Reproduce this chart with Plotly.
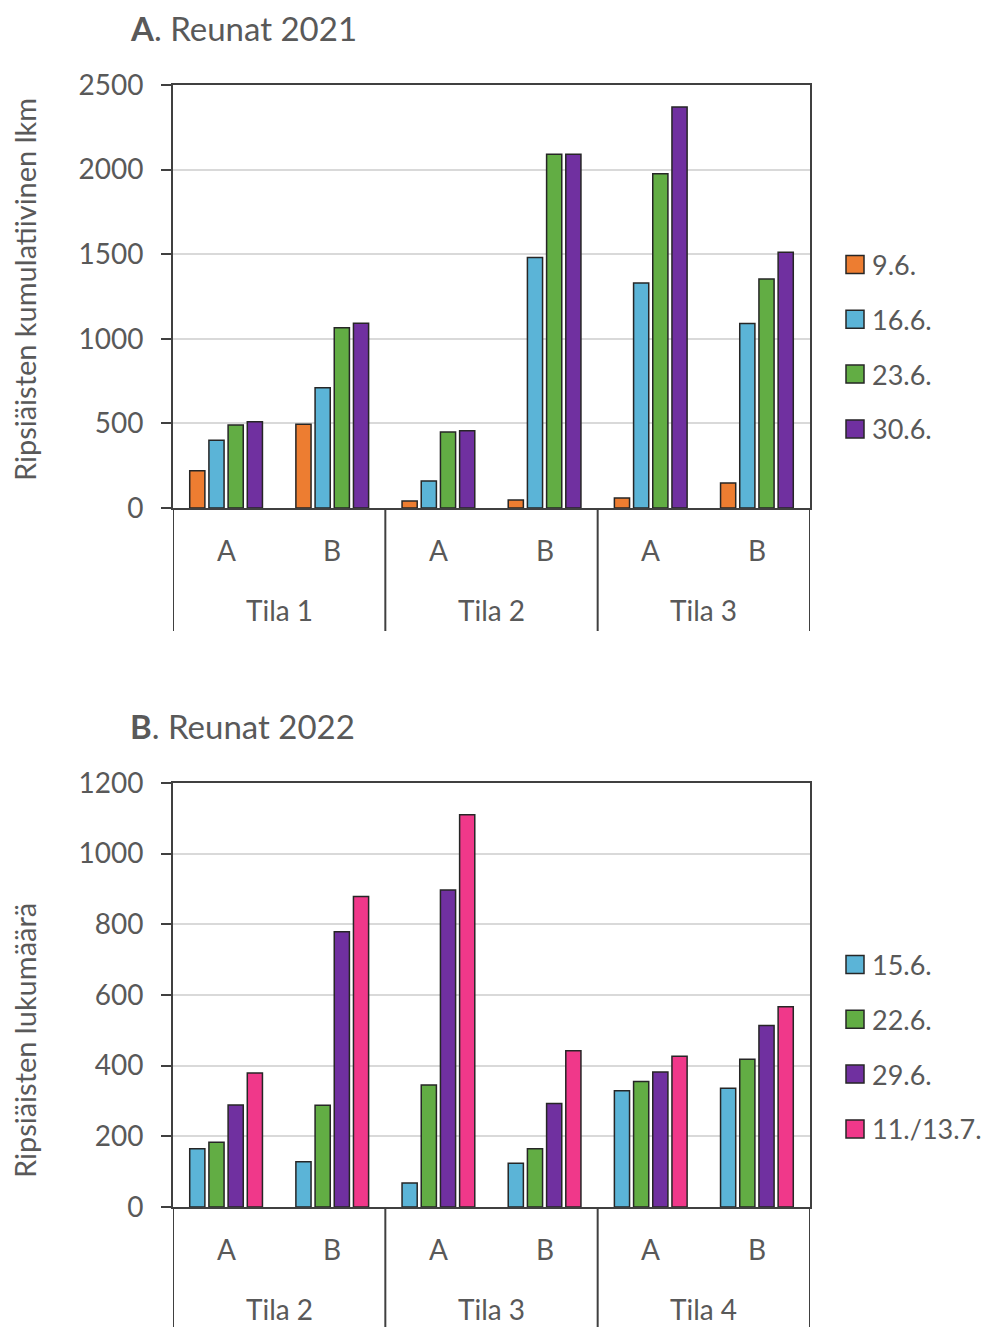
import plotly.graph_objects as go

# the page body adds an 8px margin, so the figure is 8px smaller and all
# pixel positions below are given in page coordinates
OFF = 8
W, H = 990 - OFF, 1327 - OFF
FONT = "Lato"
TEXT = "#595959"
AXIS = "#404040"
GRID = "#D9D9D9"
OUTLINE = "#262626"

# --- data -----------------------------------------------------------------
EDGES = ["A", "B"]

FARMS_2021 = ["Tila 1", "Tila 2", "Tila 3"]
DATES_2021 = ["9.6.", "16.6.", "23.6.", "30.6."]
V_0906 = [220, 495, 41, 47, 59, 148]
V_1606 = [400, 710, 160, 1480, 1330, 1090]
V_2306 = [490, 1065, 449, 2090, 1976, 1353]
V_3006 = [510, 1092, 457, 2090, 2370, 1511]
COLORS_2021 = ["#ED7D31", "#5BB4D7", "#62AD44", "#7030A0"]

FARMS_2022 = ["Tila 2", "Tila 3", "Tila 4"]
DATES_2022 = ["15.6.", "22.6.", "29.6.", "11./13.7."]
V_1506 = [165, 128, 68, 124, 329, 336]
V_2206 = [183, 288, 345, 165, 355, 418]
V_2906 = [289, 779, 897, 293, 382, 514]
V_1107 = [379, 879, 1110, 442, 427, 567]
COLORS_2022 = ["#5BB4D7", "#62AD44", "#7030A0", "#F0388A"]

SERIES_2021 = [V_0906, V_1606, V_2306, V_3006]
SERIES_2022 = [V_1506, V_2206, V_2906, V_1107]


def px_x(p):
    return (p - OFF) / W


def px_y(p):
    return 1 - (p - OFF) / H


def label(x, y, text, size=28, xref="paper", **kw):
    d = dict(x=x, y=y, xref=xref, yref="paper", text=text, showarrow=False,
             xanchor="center", yanchor="middle",
             font=dict(size=size, color=TEXT, family=FONT))
    d.update(kw)
    return d


fig = go.Figure()

panels = [
    dict(xa="x", ya="y", farms=FARMS_2021, dates=DATES_2021, series=SERIES_2021,
         colors=COLORS_2021, top=85, bottom=508, ymax=2500, dtick=500,
         title="<b>A</b>. Reunat 2021", title_y=28,
         ytitle="Ripsiäisten kumulatiivinen lkm", ytitle_y=290,
         leg_y0=264.5, cat_bottom=631),
    dict(xa="x2", ya="y2", farms=FARMS_2022, dates=DATES_2022, series=SERIES_2022,
         colors=COLORS_2022, top=783, bottom=1207, ymax=1200, dtick=200,
         title="<b>B</b>. Reunat 2022", title_y=726,
         ytitle="Ripsiäisten lukumäärä", ytitle_y=1041,
         leg_y0=964.5, cat_bottom=1327),
]

annotations = []
shapes = []

for k, p in enumerate(panels):
    positions = list(range(len(p["farms"]) * len(EDGES)))
    for name, vals, col in zip(p["dates"], p["series"], p["colors"]):
        fig.add_trace(go.Bar(
            x=positions, y=vals, name=name,
            xaxis=p["xa"], yaxis=p["ya"],
            marker=dict(color=col, line=dict(color=OUTLINE, width=1.5)),
            showlegend=False,
        ))

    suffix = "" if k == 0 else "2"
    fig.layout["xaxis" + suffix] = dict(
        domain=[px_x(173), px_x(810)], range=[-0.5, len(positions) - 0.5],
        anchor=p["ya"], showticklabels=False, ticks="", showgrid=False,
        zeroline=False, showline=True, linecolor=AXIS, linewidth=2, mirror=True,
        automargin=False,
    )
    fig.layout["yaxis" + suffix] = dict(
        domain=[px_y(p["bottom"]), px_y(p["top"])], range=[0, p["ymax"]],
        dtick=p["dtick"], anchor=p["xa"], showgrid=True, gridcolor=GRID,
        gridwidth=1.5, zeroline=False, showline=True, linecolor=AXIS,
        linewidth=2, mirror=True, ticks="outside", ticklen=10, tickwidth=1.5,
        tickcolor=AXIS, ticklabelstandoff=12, automargin=False,
        tickfont=dict(size=28, color=TEXT, family=FONT),
    )

    # multi-level category labels
    for i, farm in enumerate(p["farms"]):
        for j, edge in enumerate(EDGES):
            annotations.append(label(i * len(EDGES) + j, px_y(p["bottom"] + 42),
                                     edge, xref=p["xa"]))
        annotations.append(label(i * len(EDGES) + (len(EDGES) - 1) / 2,
                                 px_y(p["bottom"] + 102), farm, xref=p["xa"]))
    for i in range(len(p["farms"]) + 1):
        shapes.append(dict(
            type="line", xref=p["xa"], yref="paper",
            x0=i * len(EDGES) - 0.5, x1=i * len(EDGES) - 0.5,
            y0=px_y(p["bottom"]), y1=px_y(p["cat_bottom"]),
            line=dict(color=AXIS, width=2),
        ))

    # panel title and y title
    annotations.append(label(px_x(128), px_y(p["title_y"]), p["title"],
                             size=33, xanchor="left"))
    annotations.append(label(px_x(24), px_y(p["ytitle_y"]), p["ytitle"],
                             size=29, textangle=-90))

    # legend
    for i, (name, col) in enumerate(zip(p["dates"], p["colors"])):
        cy = p["leg_y0"] + 54.8 * i
        shapes.append(dict(
            type="rect", xref="paper", yref="paper",
            x0=px_x(846), x1=px_x(864), y0=px_y(cy + 9), y1=px_y(cy - 9),
            fillcolor=col, line=dict(color=OUTLINE, width=1.5),
        ))
        annotations.append(label(px_x(870), px_y(cy), name, size=27,
                                 xanchor="left"))

fig.update_layout(
    width=W, height=H,
    margin=dict(l=0, r=0, t=0, b=0, pad=0),
    paper_bgcolor="white", plot_bgcolor="white",
    barmode="group", bargap=0.277, bargroupgap=0.21,
    font=dict(family=FONT, color=TEXT),
    annotations=annotations, shapes=shapes,
    showlegend=False,
)

fig.write_html("out.html")
